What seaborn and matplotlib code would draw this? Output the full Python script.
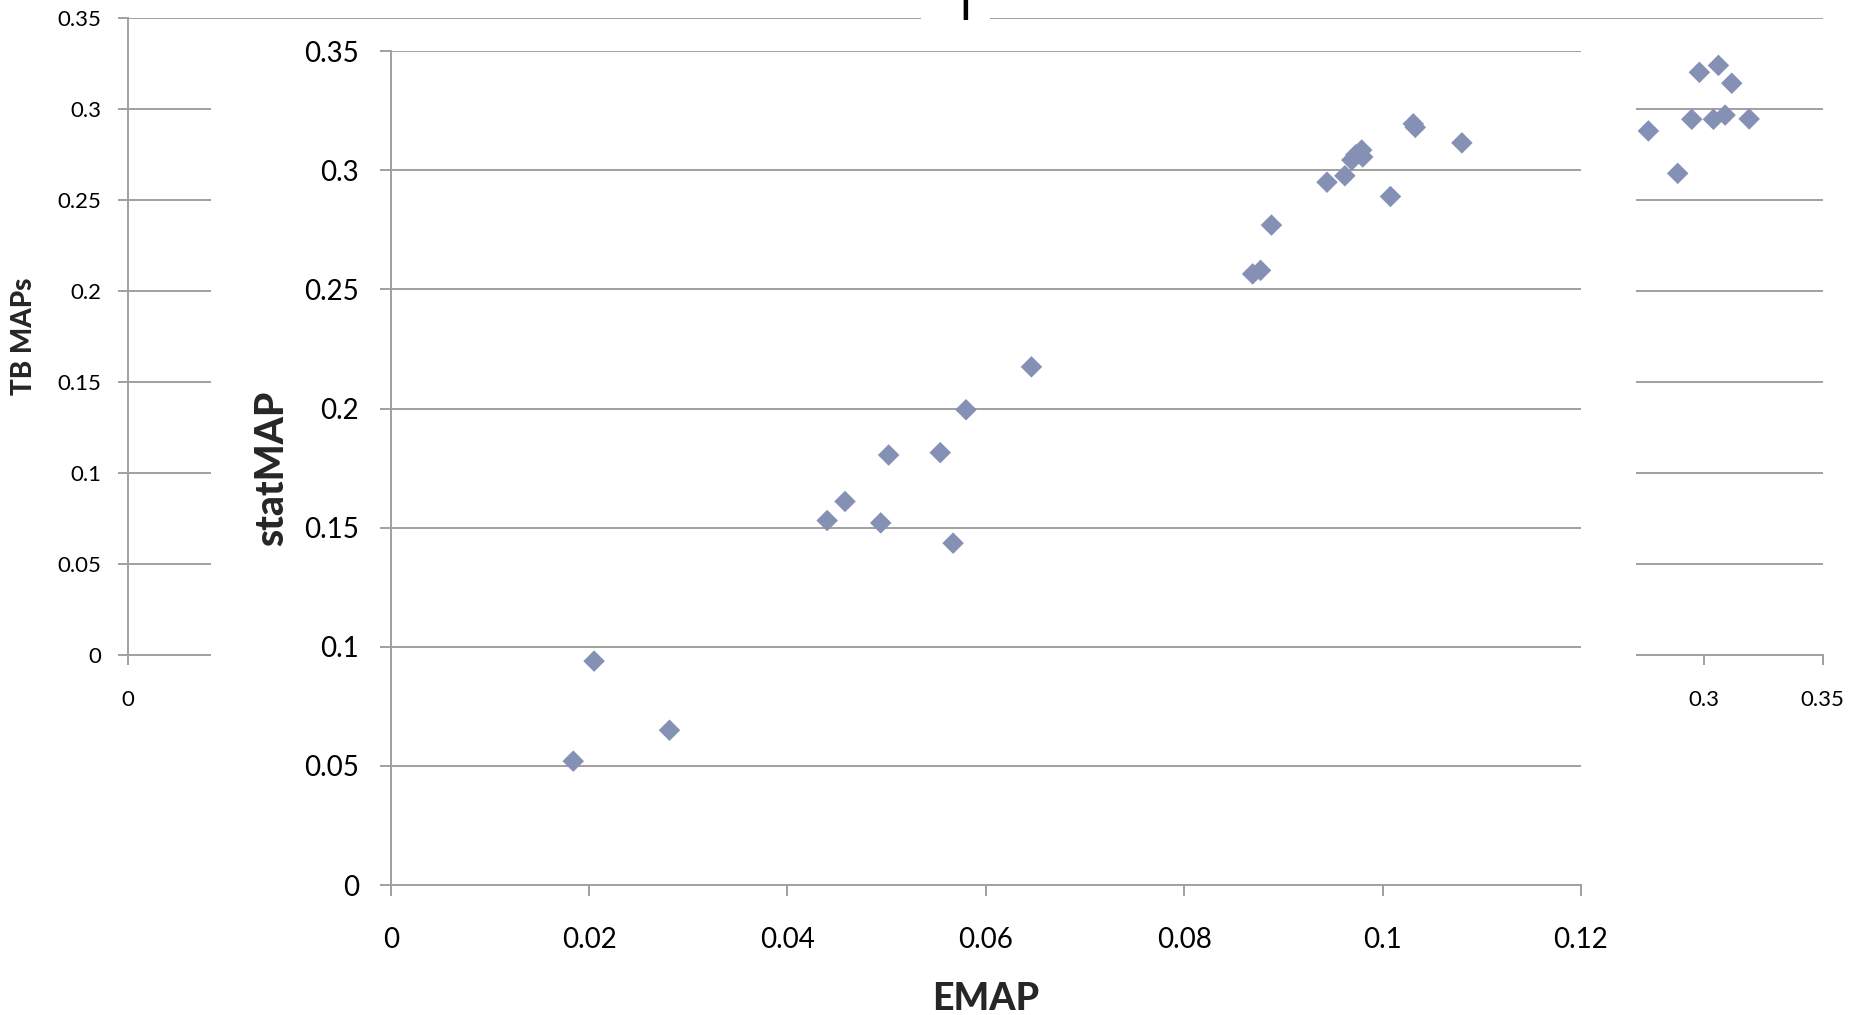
import matplotlib
matplotlib.use('Agg')
import matplotlib.pyplot as plt
import pandas as pd
import seaborn as sns
from matplotlib.patches import Rectangle

# inner chart: statMAP against EMAP
emap = [0.0184, 0.0205, 0.0281, 0.0440, 0.0458, 0.0494, 0.0502, 0.0554,
        0.0567, 0.0580, 0.0646, 0.0869, 0.0877, 0.0888, 0.0944, 0.0962,
        0.0969, 0.0973, 0.0979, 0.0980, 0.1008, 0.1031, 0.1033, 0.1080]
statmap = [0.052, 0.094, 0.065, 0.153, 0.161, 0.152, 0.1805, 0.1815,
           0.1435, 0.1995, 0.2175, 0.2565, 0.258, 0.277, 0.295, 0.2977,
           0.3043, 0.3065, 0.3085, 0.3056, 0.289, 0.3195, 0.318, 0.3115]

# outer chart (mostly hidden behind the inner one): TB MAPs
tb_x = [0.2768, 0.2891, 0.2950, 0.2982, 0.3041, 0.3062, 0.3090, 0.3118, 0.3191]
tb_maps = [0.2879, 0.2646, 0.2943, 0.3201, 0.2943, 0.3239, 0.2966, 0.3141, 0.2945]

y_ticks = [0, 0.05, 0.1, 0.15, 0.2, 0.25, 0.3, 0.35]
y_labels = ['0', '0.05', '0.1', '0.15', '0.2', '0.25', '0.3', '0.35']
inner_xticks = [0, 0.02, 0.04, 0.06, 0.08, 0.1, 0.12]
inner_xlabels = ['0', '0.02', '0.04', '0.06', '0.08', '0.1', '0.12']
# the outer x axis is squeezed, its left end carries the label 0
outer_xmin = -0.3615
outer_xticks = [outer_xmin, 0.3, 0.35]
outer_xlabels = ['0', '0.3', '0.35']

df_in = pd.DataFrame({'EMAP': emap, 'statMAP': statmap})
df_out = pd.DataFrame({'x': tb_x, 'TB MAPs': tb_maps})

sns.set_style('white')
plt.rcParams['font.family'] = ['Lato', 'DejaVu Sans']

grid_color = '#a0a0a0'
point_color = '#8491b4'

fig = plt.figure(figsize=(18.68, 10.15), dpi=100)


def style_axes(ax, size, tick_len, pad_x, pad_y):
    ax.set_yticks(y_ticks)
    ax.yaxis.grid(True, color=grid_color, linewidth=1.4)
    ax.xaxis.grid(False)
    ax.set_axisbelow(True)
    for side in ['top', 'right']:
        ax.spines[side].set_visible(False)
    for side in ['left', 'bottom']:
        ax.spines[side].set_color(grid_color)
        ax.spines[side].set_linewidth(1.4)
    ax.tick_params(axis='both', direction='out', length=tick_len, width=1.4,
                   color=grid_color, labelcolor='black', labelsize=size,
                   bottom=True, left=True)
    ax.tick_params(axis='x', pad=pad_x)
    ax.tick_params(axis='y', pad=pad_y)


# outer chart
ax_out = fig.add_axes([0.0683, 0.3545, 0.9075, 0.6279], zorder=0)
sns.scatterplot(data=df_out, x='x', y='TB MAPs', marker='D', s=120,
                color=point_color, edgecolor='none', ax=ax_out, zorder=3)
ax_out.set_xlim(outer_xmin, 0.35)
ax_out.set_ylim(0, 0.35)
style_axes(ax_out, 16, 7, 18, 12)
ax_out.set_yticklabels(y_labels)
ax_out.set_xticks(outer_xticks)
ax_out.set_xticklabels(outer_xlabels)
ax_out.set_xlabel('')
ax_out.set_ylabel('TB MAPs', fontsize=20, fontweight='black', va='center')
ax_out.yaxis.set_label_coords(-0.061, 0.5)

# white area of the pasted inner chart
fig.add_artist(Rectangle((210.9 / 1868, 0), (1635.7 - 210.9) / 1868, 1 - 25 / 1015,
                         transform=fig.transFigure, facecolor='white',
                         edgecolor='none', zorder=0.5))
fig.add_artist(Rectangle((921 / 1868, 1 - 26 / 1015), 69 / 1868, 26 / 1015,
                         transform=fig.transFigure, facecolor='white',
                         edgecolor='none', zorder=0.5))
fig.text(965 / 1868, 1 - 20 / 1015, 'I', fontsize=24, fontweight='bold',
         ha='center', va='baseline', color='black', zorder=0.6)

# inner chart
ax_in = fig.add_axes([0.2092, 0.128, 0.6371, 0.8216], zorder=1)
ax_in.set_facecolor('white')
sns.scatterplot(data=df_in, x='EMAP', y='statMAP', marker='D', s=120,
                color=point_color, edgecolor='none', ax=ax_in, zorder=3)
ax_in.set_xlim(0, 0.12)
ax_in.set_ylim(0, 0.35)
style_axes(ax_in, 20, 8, 22, 15)
ax_in.set_yticklabels(y_labels)
ax_in.set_xticks(inner_xticks)
ax_in.set_xticklabels(inner_xlabels)
ax_in.set_xlabel('EMAP', fontsize=27, fontweight='black', va='center')
ax_in.set_ylabel('statMAP', fontsize=28, fontweight='black', va='center')
ax_in.xaxis.set_label_coords(0.5, -0.137)
ax_in.yaxis.set_label_coords(-0.1, 0.5)

plt.savefig('out.png', dpi=100)
